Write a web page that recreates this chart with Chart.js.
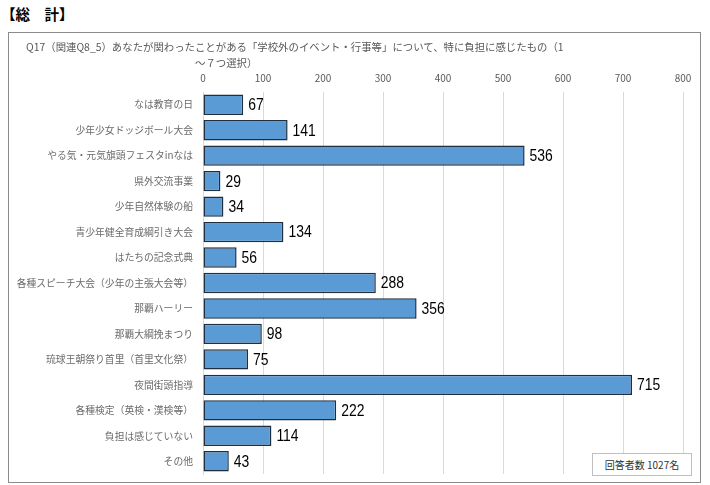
<!DOCTYPE html>
<html>
<head>
<meta charset="utf-8">
<script src="https://cdn.jsdelivr.net/npm/chart.js@4"></script>
<style>
  body { margin: 0; background: #fff; width: 710px; height: 485px; position: relative; overflow: hidden;
         font-family: "Noto Sans CJK JP", sans-serif; }
  #heading { position: absolute; left: 1px; top: 3px; font-size: 14.5px; font-weight: bold; color: #000; }
  #frame { position: absolute; left: 8px; top: 32px; width: 691px; height: 449px; border: 1px solid #8c8c8c; }
  #frame canvas { position: absolute; left: 0; top: 0; }
  .qtitle { position: absolute; font-size: 10.4px; color: #595959; white-space: nowrap; }
  #note { position: absolute; left: 583px; top: 420px; width: 98px; height: 21px; border: 1px solid #bfbfbf;
          background: #fff; font-size: 10px; color: #333; text-align: center; line-height: 21px; }
</style>
</head>
<body>
<div id="heading">【総　計】</div>
<div id="frame">
  <canvas id="chart" width="691" height="449"></canvas>
  <div class="qtitle" style="left:17px; top:6px;">Q17（関連Q8_5）あなたが関わったことがある「学校外のイベント・行事等」について、特に負担に感じたもの（1</div>
  <div class="qtitle" style="left:186px; top:22px;">～７つ選択）</div>
  <div id="note">回答者数 1027名</div>
</div>
<script>
// categories and counts
const categories = [
  "なは教育の日",
  "少年少女ドッジボール大会",
  "やる気・元気旗頭フェスタinなは",
  "県外交流事業",
  "少年自然体験の船",
  "青少年健全育成綱引き大会",
  "はたちの記念式典",
  "各種スピーチ大会（少年の主張大会等）",
  "那覇ハーリー",
  "那覇大綱挽まつり",
  "琉球王朝祭り首里（首里文化祭）",
  "夜間街頭指導",
  "各種検定（英検・漢検等）",
  "負担は感じていない",
  "その他"
];
const counts = [67, 141, 536, 29, 34, 134, 56, 288, 356, 98, 75, 715, 222, 114, 43];
const axisMax = 800;
const axisStep = 100;

// value labels to the right of each bar
const valueLabels = {
  id: 'valueLabels',
  afterDatasetsDraw(chart) {
    const ctx = chart.ctx;
    const meta = chart.getDatasetMeta(0);
    ctx.save();
    ctx.fillStyle = '#000';
    ctx.font = '16px "Liberation Sans", sans-serif';
    ctx.textBaseline = 'middle';
    ctx.textAlign = 'left';
    meta.data.forEach((bar, i) => {
      ctx.save();
      ctx.translate(bar.x + 5, bar.y + 1);
      ctx.scale(0.87, 1);
      ctx.fillText(String(counts[i]), 0, 0);
      ctx.restore();
    });
    ctx.restore();
  }
};

new Chart(document.getElementById('chart'), {
  type: 'bar',
  data: {
    labels: categories,
    datasets: [{
      data: counts,
      backgroundColor: '#5b9bd5',
      borderColor: '#1f2f40',
      borderWidth: 1.5,
      borderSkipped: false,
      categoryPercentage: 0.8,
      barPercentage: 1.0
    }]
  },
  options: {
    indexAxis: 'y',
    responsive: false,
    animation: false,
    events: [],
    layout: { padding: { top: 35, right: 17, bottom: 8, left: 0 } },
    plugins: {
      legend: { display: false },
      tooltip: { enabled: false }
    },
    scales: {
      x: {
        position: 'top',
        min: 0,
        max: axisMax,
        ticks: {
          stepSize: axisStep,
          color: '#595959',
          padding: 8,
          font: { family: '"Noto Sans CJK JP", sans-serif', size: 10 }
        },
        grid: { color: '#d9d9d9', drawTicks: false },
        border: { display: false },
        afterFit(scale) { scale.height = 24; }
      },
      y: {
        ticks: {
          color: '#6a6a6a',
          padding: 2,
          autoSkip: false,
          font: { family: '"Noto Sans CJK JP", sans-serif', size: 9.8 }
        },
        grid: { display: false },
        border: { color: '#d9d9d9' },
        afterFit(scale) { scale.width = 194; }
      }
    }
  },
  plugins: [valueLabels]
});
</script>
</body>
</html>
